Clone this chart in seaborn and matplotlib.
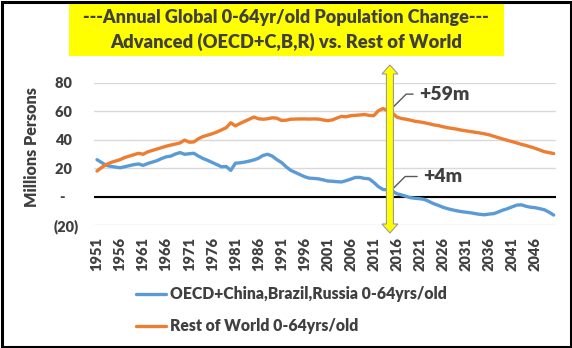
import matplotlib
matplotlib.use("Agg")
import matplotlib.pyplot as plt
import numpy as np
import pandas as pd
import seaborn as sns
from matplotlib.patches import Polygon, Rectangle
from matplotlib.lines import Line2D

# ---------------- data ----------------
years = list(range(1951, 2051))
advanced = [
    26.0, 24.0, 22.0, 21.3, 20.8, 20.3, 21.0, 21.8, 22.5, 23.0,   # 1951-1960
    22.0, 23.3, 24.3, 25.3, 26.8, 28.0, 28.5, 30.0, 31.0, 29.8,   # 1961-1970
    30.2, 30.5, 28.5, 26.8, 25.5, 24.0, 22.5, 21.0, 21.2, 18.5,   # 1971-1980
    23.5, 23.8, 24.3, 25.0, 25.8, 27.0, 29.0, 29.8, 28.5, 26.0,   # 1981-1990
    24.0, 21.0, 18.5, 17.0, 15.5, 14.0, 13.0, 12.8, 12.5, 11.8,   # 1991-2000
    11.0, 10.8, 10.5, 10.3, 11.2, 12.3, 13.5, 13.5, 12.8, 12.5,   # 2001-2010
    10.0, 7.0, 5.0, 4.8, 4.0, 2.0, 1.2, 0.2, -0.8, -1.2,          # 2011-2020
    -1.5, -2.0, -3.5, -5.0, -6.2, -7.5, -8.5, -9.3, -10.0, -10.6, # 2021-2030
    -11.0, -11.4, -12.0, -12.5, -12.8, -12.3, -12.0, -10.8, -9.5, -8.5,  # 2031-2040
    -7.2, -6.0, -5.8, -6.8, -7.5, -7.8, -8.5, -9.3, -11.0, -13.0,  # 2041-2050
]
rest = [
    18.0, 20.5, 22.5, 24.0, 25.0, 26.0, 27.5, 28.5, 29.5, 30.5,   # 1951-1960
    29.8, 31.5, 32.5, 33.5, 34.5, 35.5, 36.3, 37.0, 37.8, 39.8,   # 1961-1970
    38.3, 38.5, 40.8, 42.3, 43.3, 44.3, 45.5, 47.0, 48.5, 52.0,   # 1971-1980
    49.8, 51.5, 53.0, 54.5, 56.0, 54.8, 54.5, 54.8, 55.5, 55.2,   # 1981-1990
    53.6, 53.8, 54.5, 54.6, 54.7, 54.7, 54.6, 54.7, 54.6, 54.0,   # 1991-2000
    53.5, 54.0, 55.3, 56.5, 56.2, 57.0, 57.2, 57.5, 57.8, 57.2,   # 2001-2010
    57.0, 60.5, 62.0, 60.5, 59.0, 56.0, 55.0, 54.5, 53.8, 53.0,   # 2011-2020
    52.6, 52.0, 51.3, 50.5, 50.0, 49.2, 48.5, 48.0, 47.5, 46.8,   # 2021-2030
    46.3, 45.8, 45.3, 44.8, 44.2, 43.5, 42.5, 41.5, 40.5, 39.6,   # 2031-2040
    38.7, 37.8, 36.8, 36.0, 35.0, 34.0, 32.8, 31.6, 31.0, 30.3,   # 2041-2050
]
series_names = ["OECD+China,Brazil,Russia 0-64yrs/old", "Rest of World 0-64yrs/old"]
series_colors = ["#5b9bd5", "#ed7d31"]
tick_years = list(range(1951, 2050, 5))
y_ticks = [-20, 0, 20, 40, 60, 80]
y_tick_labels = ["(20)", "-    ", "20  ", "40  ", "60  ", "80  "]
title_lines = ["---Annual Global 0-64yr/old Population Change---",
               "Advanced (OECD+C,B,R) vs. Rest of World"]
y_label = "Millions Persons"
arrow_year = 2014.5
callout_year = 2015.2
callout_texts = ["+59m", "+4m"]
callout_anchor_vals = [63.0, 5.7]

# ---------------- style ----------------
sns.set_theme(style="white")
plt.rcParams['font.family'] = ['Lato', 'DejaVu Sans']
WT = 800
plt.rcParams['font.weight'] = WT
TXT = "#404040"

W, H = 572, 348
fig = plt.figure(figsize=(W / 100, H / 100), dpi=100)
fig.patch.set_facecolor("white")

def fx(px):
    return px / W

def fy(py):
    return 1 - py / H

ax_l, ax_r, ax_t, ax_b = 94, 556, 83, 225
ax = fig.add_axes([fx(ax_l), fy(ax_b), (ax_r - ax_l) / W, (ax_b - ax_t) / H])
ax.set_facecolor("white")

df = pd.DataFrame({
    "Year": years * 2,
    "Value": advanced + rest,
    "Series": [series_names[0]] * len(years) + [series_names[1]] * len(years),
})
sns.lineplot(data=df, x="Year", y="Value", hue="Series", hue_order=series_names,
             palette=series_colors, linewidth=2.4, ax=ax, legend=False, zorder=3)

ax.set_xlim(1950.35, 2050.5)
ax.set_ylim(-20, 80)
for s in ax.spines.values():
    s.set_visible(False)
ax.yaxis.grid(True, color="#d9d9d9", linewidth=1.0)
ax.xaxis.grid(False)
ax.axhline(0, color="black", linewidth=1.5, zorder=2)
ax.set_yticks(y_ticks)
ax.set_yticklabels(y_tick_labels, fontweight=WT)
ax.set_xticks(tick_years)
ax.set_xticklabels([str(y) for y in tick_years], rotation=90, fontweight=WT)
ax.tick_params(axis="y", length=0, pad=11.0, labelsize=10.5, labelcolor=TXT)
ax.tick_params(axis="x", length=0, pad=8.5, labelsize=10.5, labelcolor=TXT)
ax.set_xlabel("")
ax.set_ylabel("")

fig.text(fx(32), fy(147), y_label, rotation=90, ha="center", va="center",
         fontsize=11.6, fontweight=WT, color=TXT)

# ---------------- title box ----------------
fig.patches.append(Rectangle((fx(69), fy(56)), (504 - 69) / W, (56 - 3) / H,
                             transform=fig.transFigure, facecolor="#ffff00",
                             edgecolor="none", zorder=1))
fig.text(fx(286), fy(18), title_lines[0], ha="center", va="center",
         fontsize=13.0, fontweight=WT, color=TXT, zorder=2)
fig.text(fx(286), fy(42), title_lines[1], ha="center", va="center",
         fontsize=13.2, fontweight=WT, color=TXT, zorder=2)

# ---------------- double arrow ----------------
fig.canvas.draw()
xc = ax.transData.transform((arrow_year, 0))[0]
top, bot = H - 65, H - 233
hw, sw, hl = 8, 3.5, 9
pts = [(xc, top), (xc + hw, top - hl), (xc + sw, top - hl), (xc + sw, bot + hl),
       (xc + hw, bot + hl), (xc, bot), (xc - hw, bot + hl), (xc - sw, bot + hl),
       (xc - sw, top - hl), (xc - hw, top - hl)]
pts_fig = [(p[0] / W, p[1] / H) for p in pts]
fig.patches.append(Polygon(pts_fig, closed=True, transform=fig.transFigure,
                           facecolor="#ffff00", edgecolor="#9a9a9a", linewidth=0.8,
                           zorder=5))

# ---------------- callouts ----------------
offsets = [(26, 13), (30, 12)]
for txt, val, off in zip(callout_texts, callout_anchor_vals, offsets):
    ax.annotate(txt, xy=(callout_year, val), xytext=off, textcoords="offset pixels",
                ha="left", va="center", fontsize=14, fontweight=WT, color=TXT,
                annotation_clip=False, zorder=6,
                arrowprops=dict(arrowstyle="-", color="#595959", lw=1.0,
                                connectionstyle="angle,angleA=180,angleB=45,rad=0",
                                relpos=(0, 0.5), shrinkA=2, shrinkB=0))

# ---------------- legend ----------------
handles = [Line2D([0], [0], color=c, lw=2.4) for c in series_colors]
fig.legend(handles, series_names, loc="upper left", bbox_to_anchor=(fx(136), fy(286)),
           frameon=False, handlelength=1.9, handletextpad=0.25,
           labelspacing=1.05, borderpad=0, borderaxespad=0,
           prop={"weight": WT, "size": 11.3}, labelcolor=TXT)

# ---------------- border ----------------
fig.patches.append(Rectangle((1.5 / W, 1.5 / H), 1 - 3 / W, 1 - 3 / H,
                             transform=fig.transFigure, fill=False,
                             edgecolor="black", linewidth=2.2, zorder=10))

fig.savefig("out.png", dpi=100)
